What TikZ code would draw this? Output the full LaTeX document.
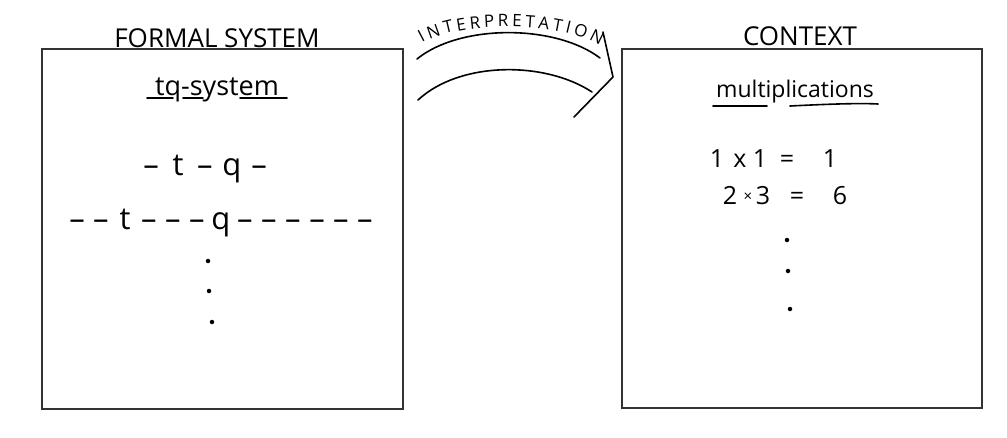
\documentclass[tikz,border=0pt]{standalone}
\usepackage{fontspec}
\setmainfont{Open Sans}
\usetikzlibrary{decorations.text}
\newcommand{\cb}[2]{\makebox[#1pt]{#2}}
\begin{document}
\begin{tikzpicture}[x=1pt,y=1pt,
  panel/.style={draw=black!80, line width=1.6pt, minimum width=361pt, minimum height=360pt, inner sep=0pt},
  title/.style={font=\fontsize{26}{30}\selectfont, inner sep=0pt, anchor=base},
  heading/.style={font=\fontsize{27}{30}\selectfont, inner sep=0pt, anchor=base},
  body/.style={font=\fontsize{31}{34}\selectfont, inner sep=0pt, anchor=base},
  math/.style={font=\fontsize{25}{28}\selectfont, inner sep=0pt, anchor=base},
  hand/.style={line width=1.6pt, line cap=round, line join=round},
  dot/.style={circle, fill=black, inner sep=0pt, minimum size=4.5pt}
]
\useasboundingbox (0,-437) rectangle (1007,0);
% panels
\node[panel] (formal) at (222.5,-229) {};
\node[panel, minimum width=360pt, minimum height=359pt] (context) at (802,-228.5) {};
% titles
\node[title] (formaltitle) at (217,-47) {FORMAL SYSTEM};
\node[title] (contexttitle) at (800,-45) {CONTEXT};
% left content
\node[heading] (tq) at (217,-95) {tq-system};
\draw[hand] (147,-98) -- (173,-98) (183,-98) -- (203,-98) (240,-98) -- (287,-98);
\node[body] (line1) at (205,-175) {\cb{27}{–}\cb{27}{t}\cb{27}{–}\cb{27}{q}\cb{27}{–}};
\node[body] (line2) at (221,-229) {\cb{24}{–}\cb{24}{–}\cb{24}{t}\cb{24}{–}\cb{24}{–}\cb{24}{–}\cb{24}{q}\cb{24}{–}\cb{24}{–}\cb{24}{–}\cb{24}{–}\cb{24}{–}\cb{24}{–}};
\node[dot] (ld1) at (208,-261) {};
\node[dot] (ld2) at (209,-291) {};
\node[dot] (ld3) at (212,-322) {};
% right content
\node[heading, font=\fontsize{23}{26}\selectfont] (mult) at (795,-97) {multiplications};
\draw[hand] (713,-106) -- (767,-106) (790,-106) .. controls (830,-104) and (860,-103) .. (878,-104);
\node[math] (eq1) at (780,-167) {\cb{24}{1}\cb{22}{x}\cb{18}{1}\cb{36}{=}\cb{50}{1}};
\node[math] (eq2) at (788,-204) {\cb{20}{2}\cb{16}{\raisebox{3pt}{\fontsize{15}{17}\selectfont ×}}\cb{14}{3}\cb{54}{=}\cb{32}{6}};
\node[dot] (rd1) at (787,-240) {};
\node[dot] (rd2) at (788,-271) {};
\node[dot] (rd3) at (790,-309) {};
% interpretation arrow
\coordinate (ua) at (417,-59);
\coordinate (ub) at (600,-58);
\coordinate (la) at (418,-100);
\coordinate (lb) at (592,-92);
\coordinate (h1) at (603,-32);
\coordinate (h2) at (613,-77);
\coordinate (h3) at (574,-117);
\draw[hand] (ua) .. controls (460,-24) and (555,-24) .. (ub);
\draw[hand] (la) .. controls (460,-61) and (545,-61) .. (lb);
\draw[hand] (h1) -- (h2) -- (h3);
\path[decorate, decoration={text along path, text={|\fontsize{17}{19}\selectfont|INTERPRETATION}, text align={fit to path}}]
  (422,-43) .. controls (460,-21) and (560,-21) .. (600,-46);
\end{tikzpicture}
\end{document}
